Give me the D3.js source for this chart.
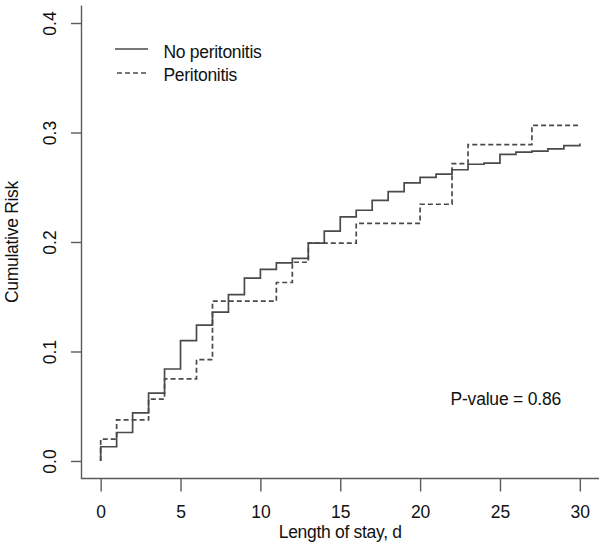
<!DOCTYPE html>
<html>
<head>
<meta charset="utf-8">
<script src="https://cdn.jsdelivr.net/npm/d3@7"></script>
<style>
  body { margin: 0; background: #fff; }
  text { font-family: "Liberation Sans", Arial, sans-serif; fill: #111; }
</style>
</head>
<body>
<script>
// ---- data ----
const noPeriDays = [0, 0, 1, 2, 3, 4, 5, 6, 7, 8, 9, 10, 11, 12, 13, 14, 15, 16, 17, 18, 19, 20, 21, 22, 23, 24, 25, 26, 27, 28, 29, 30];
const noPeriRisk = [0, 0.013, 0.026, 0.044, 0.062, 0.084, 0.110, 0.124, 0.136, 0.152, 0.167, 0.175, 0.181, 0.185, 0.199, 0.210, 0.223, 0.229, 0.238, 0.246, 0.254, 0.259, 0.262, 0.266, 0.271, 0.272, 0.280, 0.282, 0.283, 0.285, 0.288, 0.290];
const periDays = [0, 0, 1, 3, 4, 6, 7, 11, 12, 13, 16, 20, 22, 23, 27, 30];
const periRisk = [0, 0.020, 0.0375, 0.0565, 0.075, 0.0925, 0.146, 0.163, 0.1815, 0.199, 0.217, 0.2345, 0.2715, 0.289, 0.3065, 0.3065];
const xTicks = [0, 5, 10, 15, 20, 25, 30];
const yTicks = [0, 0.1, 0.2, 0.3, 0.4];
const seriesNames = ["No peritonitis", "Peritonitis"];

const width = 600, height = 543;
const fontSize = 17.5;
const lineCol = "#4a4a4a", axisCol = "#5a5a5a";

const svg = d3.select("body").append("svg")
  .attr("width", width)
  .attr("height", height);

// plot region like R: 4% padding on both axes
const x = d3.scaleLinear().domain([-1.2, 31.2]).range([81.5, 599]);
const y = d3.scaleLinear().domain([-0.016, 0.416]).range([478.5, 5.5]);

// L-shaped box
svg.append("path")
  .attr("d", "M" + x.range()[0] + "," + y.range()[1] + "V" + y.range()[0] + "H" + x.range()[1])
  .attr("fill", "none")
  .attr("stroke", axisCol)
  .attr("stroke-width", 1.4);

// axes
const xAxis = svg.append("g")
  .attr("transform", "translate(0," + y.range()[0] + ")")
  .call(d3.axisBottom(x).tickValues(xTicks).tickSize(13).tickPadding(5).tickFormat(d3.format("d")));
xAxis.select(".domain").remove();
xAxis.selectAll("line").attr("stroke", axisCol).attr("stroke-width", 1.4);
xAxis.selectAll("text")
  .attr("font-size", fontSize)
  .attr("font-family", "Liberation Sans, Arial, sans-serif")
  .attr("fill", "#111")
  .attr("dy", null)
  .attr("y", 39);

const yAxis = svg.append("g")
  .attr("transform", "translate(" + x.range()[0] + ",0)")
  .call(d3.axisLeft(y).tickValues(yTicks).tickSize(10.5).tickFormat(d3.format(".1f")));
yAxis.select(".domain").remove();
yAxis.selectAll("line").attr("stroke", axisCol).attr("stroke-width", 1.4);
yAxis.selectAll("text").remove();
yAxis.selectAll(".tick").append("text")
  .attr("transform", "translate(-25.5,0) rotate(-90)")
  .attr("text-anchor", "middle")
  .attr("font-size", fontSize)
  .text(function (d) { return d3.format(".1f")(d); });

// axis titles
svg.append("text")
  .attr("x", (x.range()[0] + x.range()[1]) / 2)
  .attr("y", 538)
  .attr("text-anchor", "middle")
  .attr("font-size", fontSize)
  .attr("letter-spacing", -0.3)
  .text("Length of stay, d");

svg.append("text")
  .attr("transform", "translate(18," + (y.range()[0] + y.range()[1]) / 2 + ") rotate(-90)")
  .attr("text-anchor", "middle")
  .attr("font-size", fontSize)
  .attr("letter-spacing", -0.3)
  .text("Cumulative Risk");

// step curves
const step = d3.line()
  .x(function (d) { return x(d[0]); })
  .y(function (d) { return y(d[1]); })
  .curve(d3.curveStepAfter);

svg.append("path")
  .datum(d3.zip(noPeriDays, noPeriRisk))
  .attr("d", step)
  .attr("fill", "none")
  .attr("stroke", lineCol)
  .attr("stroke-width", 1.7);

svg.append("path")
  .datum(d3.zip(periDays, periRisk))
  .attr("d", step)
  .attr("fill", "none")
  .attr("stroke", lineCol)
  .attr("stroke-width", 1.7)
  .attr("stroke-dasharray", "5,3");

// legend
const legend = svg.append("g");
[0, 1].forEach(function (i) {
  legend.append("line")
    .attr("x1", 115).attr("x2", 148)
    .attr("y1", 49 + i * 24).attr("y2", 49 + i * 24)
    .attr("stroke", lineCol)
    .attr("stroke-width", 1.5)
    .attr("stroke-dasharray", i === 1 ? "5,3" : null)
    .attr("stroke-dashoffset", i === 1 ? -2 : null);
  legend.append("text")
    .attr("x", 163.5)
    .attr("y", 57.5 + i * 23)
    .attr("font-size", fontSize)
    .attr("letter-spacing", -0.3)
    .text(seriesNames[i]);
});

// p-value
svg.append("text")
  .attr("x", 450.5)
  .attr("y", 404.5)
  .attr("font-size", fontSize)
  .attr("letter-spacing", -0.2)
  .text("P-value = 0.86");
</script>
</body>
</html>
